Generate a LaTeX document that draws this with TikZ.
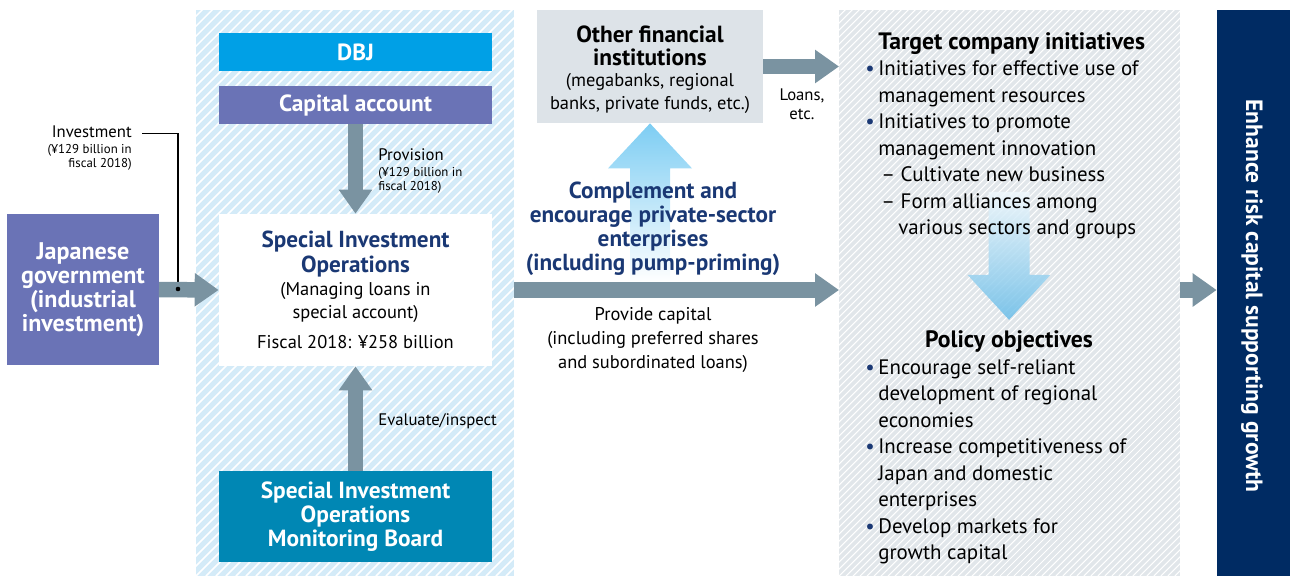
\documentclass[tikz,border=0pt]{standalone}
\usepackage{fontspec}
\setmainfont{PT Sans}
\usetikzlibrary{arrows.meta,positioning,calc}

\definecolor{dbjblue}{HTML}{00A0E6}
\definecolor{capviolet}{HTML}{6A73B6}
\definecolor{boardblue}{HTML}{0087B4}
\definecolor{arrowgray}{HTML}{7A93A1}
\definecolor{navytext}{HTML}{1A3874}
\definecolor{navybox}{HTML}{002B63}
\definecolor{panelblue}{HTML}{D4EBF8}
\definecolor{panelgray}{HTML}{E1E6EA}
\definecolor{ofigray}{HTML}{DDE3E8}
\definecolor{liftblue}{HTML}{7DCDF3}
\definecolor{dropblue}{HTML}{6ABDE8}

\newcommand{\bul}{\textcolor{navytext}{\textbullet}}

\tikzset{
  pxsize/.style 2 args={minimum width=#1*0.02cm, minimum height=#2*0.02cm},
  blockbox/.style={inner sep=0pt, outer sep=0pt, fill=#1, text=white, align=center,
    font=\bfseries\fontsize{13.3}{13.7}\selectfont},
  hatched/.style n args={3}{fill=#1, inner sep=0pt, outer sep=0pt, path picture={
      \foreach \k in {-85,...,50}
        \draw[white, line width=#3]
          ($(path picture bounding box.south west)+(\k*#2,0)$) -- ++(12cm,12cm);}},
  flow/.style={draw=arrowgray, line width=0.31cm, -{Triangle[length=0.48cm,width=0.64cm]}},
  navytitle/.style={align=center, inner sep=0pt, text=navytext,
    font=\bfseries\fontsize{13.2}{13.7}\selectfont},
  plain/.style={align=center, inner sep=0pt, font=\fontsize{10.5}{13.4}\selectfont},
  label/.style={inner sep=0pt, font=\fontsize{9.5}{11}\selectfont},
  smallnote/.style={inner sep=0pt, font=\fontsize{7.3}{8.2}\selectfont},
  listtext/.style={inner sep=0pt, font=\fontsize{11.9}{15.1}\selectfont},
  listhead/.style={inner sep=0pt, font=\bfseries\fontsize{13.5}{15.1}\selectfont}
}

\begin{document}
\begin{tikzpicture}[x=0.02cm, y=-0.02cm]
\useasboundingbox (0,0) rectangle (1290,576);

% background panels
\node[hatched={panelblue}{0.2cm}{0.9pt}, pxsize={318}{566}] (lpanel) at (355,293) {};
\node[hatched={panelgray}{0.14cm}{0.6pt}, pxsize={341}{566}] (rpanel) at (1009.5,293) {};
\node[fill=navybox, inner sep=0pt, pxsize={73}{566}] (navy) at (1253.5,293) {};
\node[rotate=-90, text=white, inner sep=0pt, font=\bfseries\fontsize{13.4}{14}\selectfont]
  (goal) at (1252,296) {Enhance risk capital supporting growth};

% DBJ side
\node[blockbox=dbjblue, pxsize={273}{38}] (dbj) at (355.5,52) {DBJ};
\node[blockbox=capviolet, pxsize={273}{38}] (cap) at (355.5,105) {Capital account};
\node[fill=white, inner sep=0pt, pxsize={273}{152}] (sio) at (355.5,290) {};
\node[navytitle] (siotitle) at (355.5,254) {Special Investment\\Operations};
\node[plain] (siosub) at (355.5,302.5) {(Managing loans in\\special account)};
\node[plain] (siofy) at (355.5,342) {Fiscal 2018: ¥258 billion};
\node[blockbox=boardblue, pxsize={273}{91}] (board) at (355.5,516.5)
  {Special Investment\\Operations\\Monitoring Board};
\node[blockbox=capviolet, pxsize={152}{151}, font=\bfseries\fontsize{13.7}{13.7}\selectfont]
  (gov) at (83,289.5) {Japanese\\government\\(industrial\\investment)};

\node[label, anchor=base west] (prov) at (378,160) {Provision};
\node[smallnote, align=left, anchor=north west] (provamt) at (378,167) {(¥129 billion in\\fiscal 2018)};
\node[label, anchor=base west] (eval) at (378,425) {Evaluate/inspect};
\node[label, anchor=base east] (inv) at (132,137) {Investment};
\node[smallnote, align=right, anchor=north east] (invamt) at (132,144) {(¥129 billion in\\fiscal 2018)};

% private sector
\node[fill=ofigray, inner sep=0pt, pxsize={226}{113}] (ofi) at (650,66.5) {};
\node[align=center, inner sep=0pt, font=\bfseries\fontsize{13.3}{13.4}\selectfont]
  (ofititle) at (650,46) {Other financial\\institutions};
\node[plain] (ofisub) at (650,93.5) {(megabanks, regional\\banks, private funds, etc.)};
\node[label, align=center] (loans) at (802,104.5) {Loans,\\etc.};

% lift arrow
\shade[top color=liftblue, middle color=liftblue!80, bottom color=white]
  (ofi.south) -- ++(42,45) -- ++(-22,0) -- ++(0,114) -- ++(-40,0) -- ++(0,-114) -- ++(-22,0) -- cycle;
\node[navytitle] (compl) at (653,229)
  {Complement and\\encourage private-sector\\enterprises\\(including pump-priming)};
\node[plain] (provcap) at (653,340)
  {Provide capital\\(including preferred shares\\and subordinated loans)};

% target side
\node[listhead, anchor=base] (pol) at (1009,347) {Policy objectives};
\shade[top color=dropblue!10, bottom color=dropblue, opacity=0.85]
  ($(pol.north)+(0,-10)$) -- ++(-41.5,-45) -- ++(21,0) -- ++(0,-83) -- ++(41,0) -- ++(0,83) -- ++(21,0) -- cycle;
\node[listtext, anchor=base west] (tgt) at (865,49) {%
  \begin{tabular}[t]{@{}p{7.4pt}@{}l@{}}
   & {\bfseries\fontsize{13.5}{15.1}\selectfont Target company initiatives}\\
  \bul & Initiatives for effective use of\\
   & management resources\\
  \bul & Initiatives to promote\\
   & management innovation\\
   & \hspace{1.7pt}– Cultivate new business\\
   & \hspace{1.7pt}– Form alliances among\\
   & \hspace{11.4pt}various sectors and groups
  \end{tabular}};
\node[listtext, anchor=base west] (pollist) at (865,374) {%
  \begin{tabular}[t]{@{}p{7.4pt}@{}l@{}}
  \bul & Encourage self-reliant\\
   & development of regional\\
   & economies\\
  \bul & Increase competitiveness of\\
   & Japan and domestic\\
   & enterprises\\
  \bul & Develop markets for\\
   & growth capital
  \end{tabular}};

% flows
\coordinate (invdot) at (178,289);
\draw[line width=0.6pt] ($(inv.east)+(10,2)$) -| (invdot);
\draw[flow] (gov.east) -- (sio.west);
\fill (invdot) circle (1.3pt);
\draw[flow] (cap.south) -- (sio.north);
\draw[flow] (board.north) -- (sio.south);
\draw[flow] (lpanel.east |- sio.center) -- (rpanel.west |- sio.center);
\draw[flow] (ofi.east) -- (rpanel.west |- ofi.east);
\draw[flow] (rpanel.east |- sio.center) -- (navy.west |- sio.center);
\end{tikzpicture}
\end{document}
